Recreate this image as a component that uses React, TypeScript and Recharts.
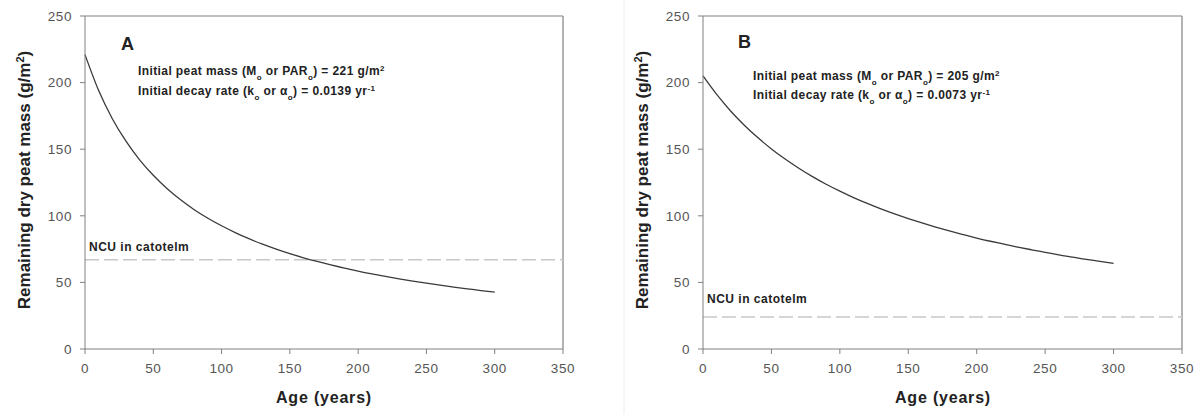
import React from 'react';
import { LineChart, Line, XAxis, YAxis, ReferenceLine } from 'recharts';

const agesA = [0, 10, 20, 30, 40, 50, 60, 70, 80, 90, 100, 110, 120, 130, 140, 150, 160, 170, 180, 190, 200, 210, 220, 230, 240, 250, 260, 270, 280, 290, 300];
const massA = [221, 194.0, 172.9, 156.0, 142.0, 130.4, 120.5, 112.0, 104.6, 98.2, 92.5, 87.4, 82.8, 78.7, 75.0, 71.6, 68.5, 65.7, 63.1, 60.7, 58.5, 56.4, 54.5, 52.7, 51.0, 49.4, 47.9, 46.5, 45.2, 43.9, 42.7];
const agesB = [0, 10, 20, 30, 40, 50, 60, 70, 80, 90, 100, 110, 120, 130, 140, 150, 160, 170, 180, 190, 200, 210, 220, 230, 240, 250, 260, 270, 280, 290, 300];
const massB = [205, 191.1, 178.9, 168.2, 158.7, 150.2, 142.6, 135.7, 129.4, 123.7, 118.5, 113.7, 109.3, 105.2, 101.4, 97.9, 94.6, 91.5, 88.6, 85.9, 83.3, 80.9, 78.7, 76.5, 74.5, 72.6, 70.7, 69.0, 67.3, 65.8, 64.3];
const ncuA = 67;
const ncuB = 24;
const xTicks = [0, 50, 100, 150, 200, 250, 300, 350];
const yTicks = [0, 50, 100, 150, 200, 250];
const labelsA = { panel: 'A', mass: '221', rate: '0.0139' };
const labelsB = { panel: 'B', mass: '205', rate: '0.0073' };

const dataA = agesA.map((a, i) => ({ age: a, mass: massA[i] }));
const dataB = agesB.map((a, i) => ({ age: a, mass: massB[i] }));

const FONT = '"Liberation Sans", Arial, sans-serif';
const AXIS = '#808080';
const TICK = { fill: '#555', fontSize: 13.5, fontFamily: FONT, letterSpacing: 0.6 };

function Panel({ data, ncu, yAxisWidth, rightMargin, left }: any) {
  return (
    <div style={{ position: 'absolute', left, top: 0 }}>
      <LineChart
        width={600}
        height={414}
        data={data}
        margin={{ top: 16, right: rightMargin, bottom: 0, left: 0 }}
      >
        <XAxis
          dataKey="age"
          type="number"
          domain={[0, 350]}
          ticks={xTicks}
          height={65}
          stroke={AXIS}
          tickSize={5}
          tickMargin={9}
          tick={TICK}
          interval={0}
        />
        <YAxis
          type="number"
          domain={[0, 250]}
          ticks={yTicks}
          width={yAxisWidth}
          stroke={AXIS}
          tickSize={5}
          tickMargin={8}
          tick={TICK}
          interval={0}
        />
        <ReferenceLine y={250} stroke={AXIS} strokeWidth={1.2} />
        <ReferenceLine x={350} stroke={AXIS} strokeWidth={1.2} />
        <ReferenceLine y={ncu} stroke="#c8c8c8" strokeWidth={1.5} strokeDasharray="14 5" />
        <Line
          dataKey="mass"
          type="monotone"
          stroke="#3a3a3a"
          strokeWidth={1.3}
          dot={false}
          isAnimationActive={false}
        />
      </LineChart>
    </div>
  );
}

function Annot({ x, y1, y2, labels, panelX, panelY, ncuX, ncuY, yLabelX, xLabelX }: any) {
  const sub = { fontSize: 8, baselineShift: 'sub' } as any;
  const sup = { fontSize: 8, baselineShift: 'super' } as any;
  return (
    <g fontFamily={FONT} fill="#222">
      <text x={panelX} y={panelY} fontSize={18} fontWeight="bold">{labels.panel}</text>
      <text x={x} y={y1} fontSize={12} fontWeight="bold" letterSpacing={0.4}>
        Initial peat mass (M<tspan style={sub}>o</tspan> or PAR<tspan style={sub}>o</tspan>) = {labels.mass} g/m<tspan style={sup}>2</tspan>
      </text>
      <text x={x} y={y2} fontSize={12} fontWeight="bold" letterSpacing={0.4}>
        Initial decay rate (k<tspan style={sub}>o</tspan> or α<tspan style={sub}>o</tspan>) = {labels.rate} yr<tspan style={sup}>-1</tspan>
      </text>
      <text x={ncuX} y={ncuY} fontSize={12} fontWeight="bold" letterSpacing={0.5}>NCU in catotelm</text>
      <text
        x={yLabelX}
        y={180}
        fontSize={17}
        fontWeight="bold"
        textAnchor="middle"
        transform={`rotate(-90 ${yLabelX} 180)`}
      >
        Remaining dry peat mass (g/m<tspan style={{ fontSize: 11, baselineShift: 'super' } as any}>2</tspan>)
      </text>
      <text x={xLabelX} y={403} fontSize={16} fontWeight="bold" textAnchor="middle" letterSpacing={0.8}>Age (years)</text>
    </g>
  );
}

export default function App() {
  return (
    <div style={{ position: 'absolute', left: 0, top: 0, width: 1201, height: 414, background: '#fff', overflow: 'hidden' }}>
      <Panel data={dataA} ncu={ncuA} yAxisWidth={85} rightMargin={37} left={0} />
      <Panel data={dataB} ncu={ncuB} yAxisWidth={103} rightMargin={18} left={600} />
      <svg width={1201} height={414} style={{ position: 'absolute', left: 0, top: 0, pointerEvents: 'none' }}>
        <line x1={624} y1={0} x2={624} y2={414} stroke="#eeeeee" strokeWidth={1} />
        <Annot x={138} y1={75} y2={95} labels={labelsA} panelX={121} panelY={50} ncuX={89} ncuY={251} yLabelX={30} xLabelX={324} />
        <Annot x={753} y1={80} y2={99} labels={labelsB} panelX={738} panelY={48} ncuX={707} ncuY={303} yLabelX={648} xLabelX={943} />
      </svg>
    </div>
  );
}
